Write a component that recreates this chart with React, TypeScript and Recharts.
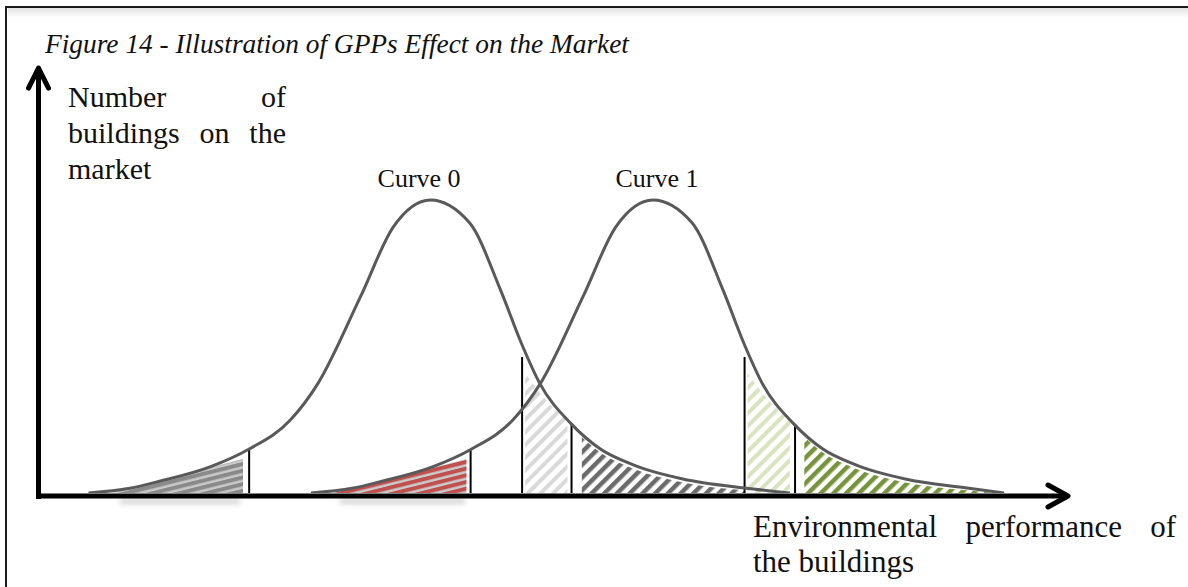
import { ComposedChart, Line, Area, XAxis, YAxis, ReferenceLine, ReferenceDot } from 'recharts';

// curve values (x = environmental performance, y = number of buildings)
const curve0X = [4.9, 8.9, 11.8, 16.7, 20.5, 24.5, 27.2, 31.3, 34.5, 38.1, 41.9, 44.9, 47.0, 48.7, 51.8, 54.6, 57.8, 62.6, 68.6, 73.0];
const curve0Y = [0, 1.6, 4.0, 8.9, 15.0, 24.9, 37.5, 66.9, 90.8, 100, 92.2, 69.3, 50.5, 37.5, 23.5, 15.0, 9.6, 4.8, 1.7, 0];
const curve1X = [26.5, 30.5, 33.4, 38.3, 42.1, 46.1, 48.8, 52.9, 56.1, 59.7, 63.5, 66.5, 68.6, 70.3, 73.4, 76.2, 79.4, 84.2, 90.2, 93.8];
const curve1Y = [0, 1.6, 4.0, 8.9, 15.0, 24.9, 37.5, 66.9, 90.8, 100, 92.2, 69.3, 50.5, 37.5, 23.5, 15.0, 9.6, 4.8, 1.7, 0];

// hatched zones under the curves
const lowGrayX = [7.2, 19.9];
const lowGrayY = [0, 11.6];
const lowRedX = [28.7, 41.6];
const lowRedY = [0, 11.6];
const midLightX = [47.3, 49.5, 51.4];
const midLightY = [40.9, 31.0, 24.9];
const highGrayX = [52.8, 54.6, 57.8, 62.6, 68.6];
const highGrayY = [19.0, 13.8, 8.3, 3.6, 0.9];
const midGreenX = [68.9, 71.1, 73.0];
const midGreenY = [40.9, 31.0, 24.9];
const highGreenX = [74.4, 76.2, 79.4, 84.2, 90.2, 93.0];
const highGreenY = [19.0, 13.8, 8.3, 3.6, 0.9, 0];

// thresholds (vertical lines) and their heights
const thresholdX = [20.5, 42.0, 47.0, 51.8, 68.6, 73.5];
const thresholdTop = [15.0, 15.0, 46.4, 23.5, 46.4, 23.5];

const toPoints = (xs: number[], ys: number[]) => xs.map((x, i) => ({ x, y: ys[i] }));

const curve0 = toPoints(curve0X, curve0Y);
const curve1 = toPoints(curve1X, curve1Y);

const serif = '"Liberation Serif", "Times New Roman", serif';

const XArrow = (props: any) => {
  const { x1, y1, x2 } = props;
  const y = y1 + 3;
  return (
    <g>
      <line x1={x1 - 2} y1={y} x2={x2 - 3} y2={y} stroke="#000" strokeWidth={5} />
      <polyline
        points={`${x2 - 20},${y - 11} ${x2},${y} ${x2 - 20},${y + 11}`}
        fill="none"
        stroke="#000"
        strokeWidth={5}
        strokeLinecap="round"
        strokeLinejoin="round"
      />
    </g>
  );
};

const YArrow = (props: any) => {
  const { x1, y1, y2 } = props;
  const x = x1 + 0.5;
  return (
    <g>
      <line x1={x} y1={y1 + 6} x2={x} y2={y2 + 3} stroke="#000" strokeWidth={5} />
      <polyline
        points={`${x - 10},${y2 + 20} ${x},${y2} ${x + 10},${y2 + 20}`}
        fill="none"
        stroke="#000"
        strokeWidth={5}
        strokeLinecap="round"
        strokeLinejoin="round"
      />
    </g>
  );
};

const justified = { textAlign: 'justify' as const, textAlignLast: 'justify' as const, whiteSpace: 'nowrap' as const };

export default function App() {
  return (
    <div
      style={{
        position: 'absolute',
        left: 0,
        top: 0,
        width: 1188,
        height: 587,
        background: '#fff',
        overflow: 'hidden',
        fontFamily: serif,
      }}
    >
      {/* frame */}
      <div style={{ position: 'absolute', left: 6, top: 6, right: 0, height: 2, background: '#1a1a1a' }} />
      <div
        style={{
          position: 'absolute',
          left: 8,
          top: 8,
          right: 0,
          height: 10,
          background: 'linear-gradient(#e2e2e2, #ffffff)',
        }}
      />
      <div style={{ position: 'absolute', left: 5, top: 6, width: 2, bottom: 0, background: '#1a1a1a' }} />

      {/* soft shadows under the low-end hatches */}
      <div style={{ position: 'absolute', left: 120, top: 499, width: 120, height: 5, background: '#b5b5b5', filter: 'blur(2.5px)', opacity: 0.6 }} />
      <div style={{ position: 'absolute', left: 340, top: 499, width: 125, height: 5, background: '#b5b5b5', filter: 'blur(2.5px)', opacity: 0.6 }} />

      <svg width={0} height={0} style={{ position: 'absolute' }}>
        <defs>
          <pattern id="lowGray" width="10" height="6.5" patternUnits="userSpaceOnUse" patternTransform="rotate(-14)">
            <rect width="10" height="6.5" fill="#c9c9c9" />
            <rect width="10" height="4" fill="#8a8a8a" />
          </pattern>
          <pattern id="lowRed" width="10" height="6.5" patternUnits="userSpaceOnUse" patternTransform="rotate(-14)">
            <rect width="10" height="6.5" fill="#cbcbcb" />
            <rect width="10" height="4" fill="#c0504d" />
          </pattern>
          <pattern id="midLight" width="9" height="10" patternUnits="userSpaceOnUse" patternTransform="rotate(45)">
            <rect width="4" height="10" fill="#d9d9d9" />
          </pattern>
          <pattern id="highGray" width="9" height="10" patternUnits="userSpaceOnUse" patternTransform="rotate(45)">
            <rect width="4.5" height="10" fill="#6b6b6b" />
          </pattern>
          <pattern id="midGreen" width="9" height="10" patternUnits="userSpaceOnUse" patternTransform="rotate(45)">
            <rect width="4" height="10" fill="#d7e4bd" />
          </pattern>
          <pattern id="highGreen" width="9" height="10" patternUnits="userSpaceOnUse" patternTransform="rotate(45)">
            <rect width="4.5" height="10" fill="#77933c" />
          </pattern>
        </defs>
      </svg>

      <div style={{ position: 'absolute', left: 45, top: 29, fontSize: 27.4, lineHeight: '30px', fontStyle: 'italic', color: '#111', whiteSpace: 'nowrap' }}>
        Figure 14 - Illustration of GPPs Effect on the Market
      </div>

      <div style={{ position: 'absolute', left: 68, top: 79, width: 218, fontSize: 30, lineHeight: '36px', color: '#111' }}>
        <div style={justified}>Number of</div>
        <div style={justified}>buildings on the</div>
        <div>market</div>
      </div>

      <div style={{ position: 'absolute', left: 753, top: 509, width: 423, fontSize: 31, lineHeight: '35px', color: '#111' }}>
        <div style={justified}>Environmental performance of</div>
        <div>the buildings</div>
      </div>

      <div style={{ position: 'absolute', left: 0, top: 0 }}>
        <ComposedChart width={1188} height={587} margin={{ top: 71, right: 120, bottom: 94, left: 38 }}>
          <XAxis dataKey="x" type="number" domain={[0, 100]} hide allowDataOverflow />
          <YAxis type="number" domain={[0, 144]} hide allowDataOverflow />

          <Area data={toPoints(lowGrayX, lowGrayY)} dataKey="y" type="linear" stroke="none" fill="url(#lowGray)" fillOpacity={1} isAnimationActive={false} />
          <Area data={toPoints(lowRedX, lowRedY)} dataKey="y" type="linear" stroke="none" fill="url(#lowRed)" fillOpacity={1} isAnimationActive={false} />
          <Area data={toPoints(midLightX, midLightY)} dataKey="y" type="monotone" stroke="none" fill="url(#midLight)" fillOpacity={1} isAnimationActive={false} />
          <Area data={toPoints(highGrayX, highGrayY)} dataKey="y" type="monotone" stroke="none" fill="url(#highGray)" fillOpacity={1} isAnimationActive={false} />
          <Area data={toPoints(midGreenX, midGreenY)} dataKey="y" type="monotone" stroke="none" fill="url(#midGreen)" fillOpacity={1} isAnimationActive={false} />
          <Area data={toPoints(highGreenX, highGreenY)} dataKey="y" type="monotone" stroke="none" fill="url(#highGreen)" fillOpacity={1} isAnimationActive={false} />

          {thresholdX.map((x, i) => (
            <ReferenceLine
              key={x}
              segment={[{ x, y: 0 }, { x, y: thresholdTop[i] }]}
              stroke="#000"
              strokeWidth={2}
              ifOverflow="visible"
            />
          ))}

          <Line data={curve0} dataKey="y" type="monotone" stroke="#595959" strokeWidth={3} dot={false} isAnimationActive={false} />
          <Line data={curve1} dataKey="y" type="monotone" stroke="#595959" strokeWidth={3} dot={false} isAnimationActive={false} />

          <ReferenceLine segment={[{ x: 0, y: 0 }, { x: 100, y: 0 }]} ifOverflow="visible" shape={XArrow} />
          <ReferenceLine segment={[{ x: 0, y: 0 }, { x: 0, y: 145 }]} ifOverflow="visible" shape={YArrow} />

          <ReferenceDot
            x={37.0}
            y={100}
            r={0}
            ifOverflow="visible"
            label={{ value: 'Curve 0', position: 'top', offset: 13, fill: '#111', fontSize: 26, fontFamily: serif }}
          />
          <ReferenceDot
            x={60.1}
            y={100}
            r={0}
            ifOverflow="visible"
            label={{ value: 'Curve 1', position: 'top', offset: 13, fill: '#111', fontSize: 26, fontFamily: serif }}
          />
        </ComposedChart>
      </div>
    </div>
  );
}
